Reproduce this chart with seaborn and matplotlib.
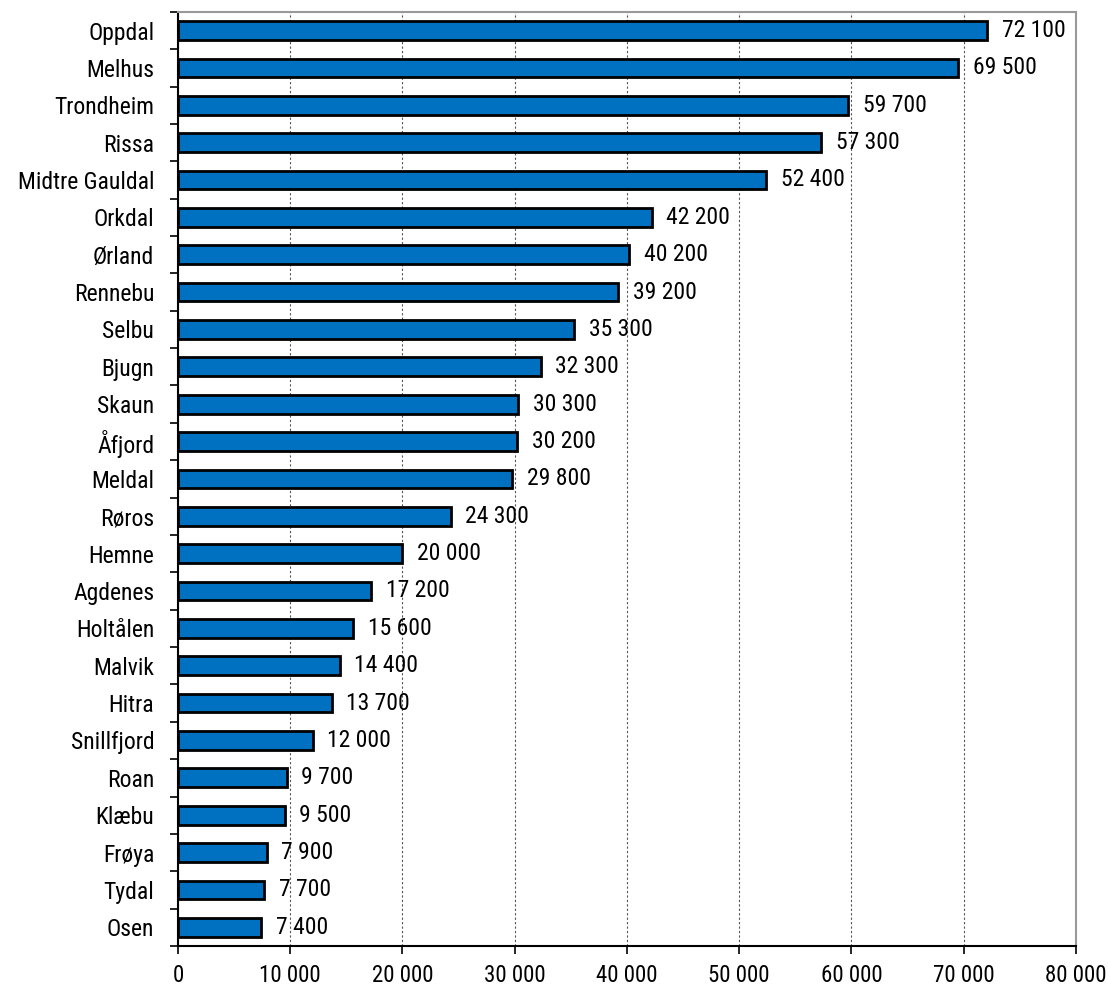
import numpy as np
import pandas as pd
import matplotlib
matplotlib.use("Agg")
import matplotlib.pyplot as plt
import seaborn as sns
from matplotlib import font_manager
from matplotlib.ticker import FuncFormatter, FixedLocator

kommuner = ["Oppdal", "Melhus", "Trondheim", "Rissa", "Midtre Gauldal", "Orkdal",
            "Ørland", "Rennebu", "Selbu", "Bjugn", "Skaun", "Åfjord", "Meldal",
            "Røros", "Hemne", "Agdenes", "Holtålen", "Malvik", "Hitra", "Snillfjord",
            "Roan", "Klæbu", "Frøya", "Tydal", "Osen"]
verdier = [72100, 69500, 59700, 57300, 52400, 42200, 40200, 39200, 35300, 32300,
           30300, 30200, 29800, 24300, 20000, 17200, 15600, 14400, 13700, 12000,
           9700, 9500, 7900, 7700, 7400]

df = pd.DataFrame({"Kommune": kommuner, "Verdi": verdier})

sns.set_style("white")

# prefer an Arial Narrow look-alike if one is installed
installed = sorted({f.name for f in font_manager.fontManager.ttflist})
preferred = ["Liberation Sans Narrow", "Arial Narrow", "Roboto Condensed"]
narrow = [n for n in preferred if n in installed]
if not narrow:
    narrow = [n for n in installed if "Narrow" in n or "Condensed" in n][:1]
families = narrow[:1] + ['Liberation Sans', 'DejaVu Sans']
plt.rcParams['font.family'] = families
fs = 17 if narrow else 15
fs_x = 16.5 if narrow else 14.5

fig = plt.figure(figsize=(11.08, 9.86), dpi=100)
ax = fig.add_axes([0.1606, 0.0406, 0.8105, 0.9474])


def fmt(v):
    return "{:,}".format(int(v)).replace(",", " ")


sns.barplot(data=df, x="Verdi", y="Kommune", color="#0070C0", width=0.5,
            edgecolor="black", linewidth=2, saturation=1, ax=ax, zorder=3)

for i, v in enumerate(verdier):
    ax.text(v + 1300, i, fmt(v), va="center", ha="left", fontsize=fs,
            color="black", zorder=4)

ax.set_xlim(0, 80000)
ax.set_ylim(len(kommuner) - 0.5, -0.5)
ax.set_xticks(np.arange(0, 80001, 10000))
ax.xaxis.set_major_formatter(FuncFormatter(lambda v, p: fmt(v)))
ax.xaxis.grid(True, linestyle=(0, (2, 2)), color="#555555", linewidth=0.8, zorder=0)
ax.set_xlabel("")
ax.set_ylabel("")

ax.yaxis.set_minor_locator(FixedLocator(np.arange(-0.5, len(kommuner), 1)))
ax.tick_params(axis="y", which="major", left=False, length=0, pad=17,
               labelsize=fs, labelcolor="black")
ax.tick_params(axis="y", which="minor", left=True, length=6, width=1.2,
               color="black", direction="out")
ax.tick_params(axis="x", which="major", bottom=True, length=6, width=1.2,
               color="black", direction="out", labelsize=fs_x,
               labelcolor="black", pad=7)

for side in ["top", "right"]:
    ax.spines[side].set_color("#999999")
    ax.spines[side].set_linewidth(1.5)
for side in ["left", "bottom"]:
    ax.spines[side].set_color("black")
    ax.spines[side].set_linewidth(1.5)

fig.savefig("out.png", dpi=100)
